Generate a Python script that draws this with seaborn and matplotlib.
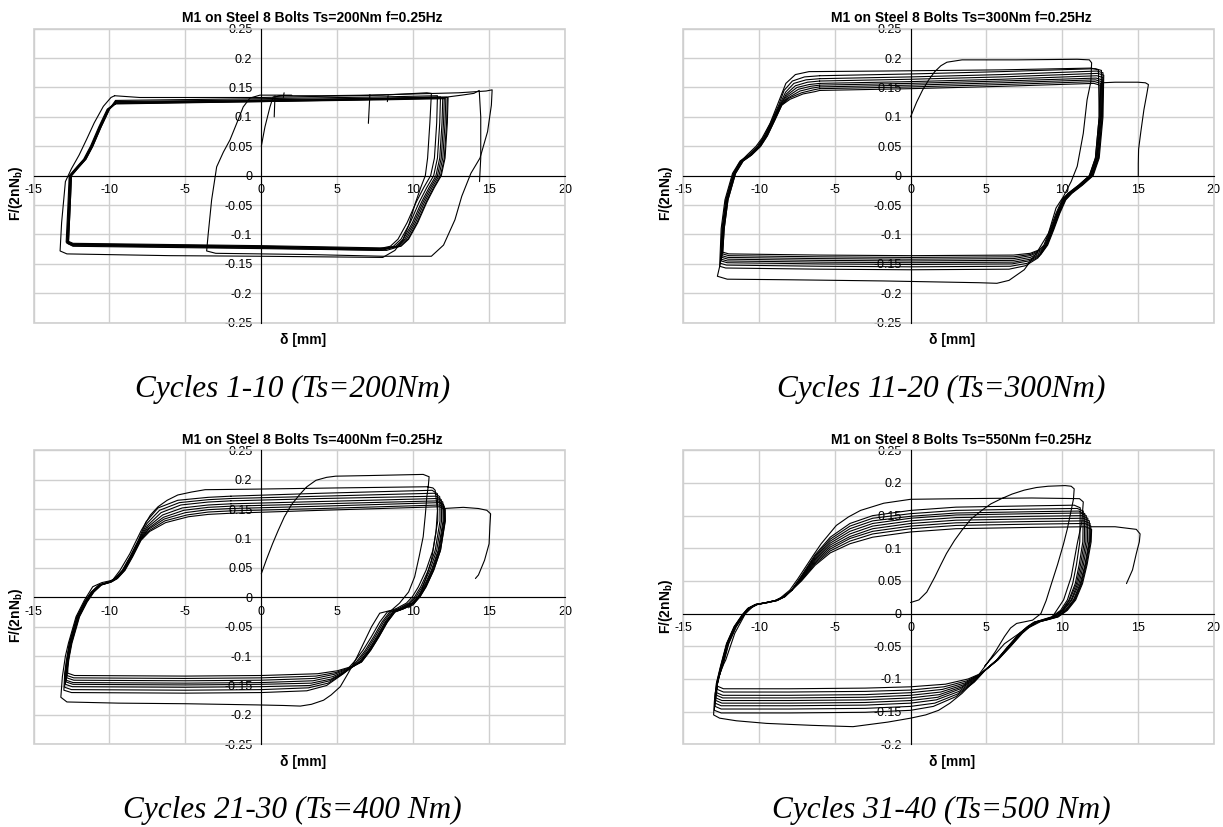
import matplotlib
matplotlib.use("Agg")
import matplotlib.pyplot as plt
from matplotlib.patches import Rectangle
import pandas as pd
import seaborn as sns

# ---------------- text ----------------
titles = ["M1 on Steel 8 Bolts Ts=200Nm f=0.25Hz", "M1 on Steel 8 Bolts Ts=300Nm f=0.25Hz",
          "M1 on Steel 8 Bolts Ts=400Nm f=0.25Hz", "M1 on Steel 8 Bolts Ts=550Nm f=0.25Hz"]
captions = ["Cycles 1-10 (Ts=200Nm)", "Cycles 11-20 (Ts=300Nm)",
            "Cycles 21-30 (Ts=400 Nm)", "Cycles 31-40 (Ts=500 Nm)"]
x_label = "δ [mm]"
y_label = r"F/(2nN$_\mathbf{b}$)"

x_ticks = [-15, -10, -5, 0, 5, 10, 15, 20]
x_tick_labels = ["-15", "-10", "-5", "0", "5", "10", "15", "20"]
y_ticks = [-0.25, -0.2, -0.15, -0.1, -0.05, 0, 0.05, 0.1, 0.15, 0.2, 0.25]
y_tick_labels = ["-0.25", "-0.2", "-0.15", "-0.1", "-0.05", "0", "0.05", "0.1", "0.15", "0.2", "0.25"]
y_ticks_last = [-0.2, -0.15, -0.1, -0.05, 0, 0.05, 0.1, 0.15, 0.2, 0.25]
y_tick_labels_last = ["-0.2", "-0.15", "-0.1", "-0.05", "0", "0.05", "0.1", "0.15", "0.2", "0.25"]

# ---------------- panel 1 : Ts=200Nm (delta [mm], F/(2nNb)) ----------------
p1_first = [(0, .05), (0.24, .083), (0.57, .117), (0.78, .134), (1.5, .136), (4, .136), (7, .137), (10, .139),
            (13, .141), (14.8, .144), (15.2, .146), (15.15, .12), (14.9, .075), (14.4, .03), (13.8, .004),
            (13.2, -.035), (12.75, -.075), (12.0, -.118), (11.2, -.137), (8, -.137), (3, -.134), (-3.0, -.132),
            (-3.6, -.128), (-3.5, -.1), (-3.27, -.041), (-2.94, .015), (-2.5, .04), (-2.06, .061), (-1.62, .089),
            (-1.19, .117), (-0.75, .132), (-0.09, .137), (2, .137)]
p1_final = [(12.3, .134), (13.2, .137), (14.0, .14), (14.35, .145), (14.45, .1), (14.45, .03), (14.37, -.01)]
p1_spikes = [[(0.85, .10), (0.9, .136)], [(1.45, .133), (1.5, .141)],
             [(7.05, .089), (7.15, .138)], [(8.3, .126), (8.35, .136)]]
p1_cycles = [
    [(-9.66, .136), (-8.0, .133), (0, .133), (8, .137), (10.9, .141), (11.2, .14), (11.1, .09), (10.95, .03),
     (10.8, 0), (10.5, -.02), (10.1, -.05), (9.7, -.085), (9.3, -.11), (8.8, -.127), (8.0, -.139), (0, -.137),
     (-6, -.136), (-12.8, -.133), (-13.25, -.128), (-13.15, -.08), (-12.9, -.01), (-12.5, .012), (-12.0, .035),
     (-11.5, .062), (-11.0, .09), (-10.4, .118), (-9.9, .133), (-9.66, .136)],
    [(-9.6, .128), (0, .131), (8, .134), (11.6, .136), (11.55, .09), (11.4, .03), (11.15, 0), (10.7, -.02),
     (10.2, -.045), (9.6, -.08), (9.0, -.108), (8.5, -.12), (7.6, -.125), (0, -.121), (-12.4, -.117),
     (-12.7, -.113), (-12.6, -.06), (-12.5, 0), (-12.0, .015), (-11.55, .028), (-11.1, .05), (-10.55, .083),
     (-10.0, .113), (-9.6, .128)],
    [(-9.6, .126), (0, .129), (8, .132), (11.8, .134), (11.75, .09), (11.6, .03), (11.35, 0), (10.9, -.02),
     (10.4, -.045), (9.8, -.08), (9.2, -.108), (8.7, -.12), (7.8, -.126), (0, -.122), (-12.4, -.118),
     (-12.75, -.114), (-12.65, -.06), (-12.55, 0), (-12.05, .015), (-11.6, .028), (-11.15, .05), (-10.6, .083),
     (-10.05, .113), (-9.6, .126)],
    [(-9.6, .125), (0, .128), (8, .131), (11.95, .133), (11.9, .09), (11.75, .03), (11.5, 0), (11.05, -.02),
     (10.55, -.045), (9.95, -.08), (9.35, -.108), (8.85, -.12), (7.95, -.127), (0, -.123), (-12.4, -.119),
     (-12.8, -.115), (-12.7, -.06), (-12.6, 0), (-12.1, .015), (-11.65, .028), (-11.2, .05), (-10.65, .083),
     (-10.1, .113), (-9.6, .125)],
    [(-9.6, .124), (0, .127), (8, .13), (12.05, .132), (12.0, .09), (11.85, .03), (11.6, 0), (11.15, -.02),
     (10.65, -.045), (10.05, -.08), (9.45, -.108), (8.95, -.12), (8.05, -.124), (0, -.12), (-12.4, -.116),
     (-12.8, -.112), (-12.7, -.06), (-12.6, 0), (-12.1, .015), (-11.65, .028), (-11.2, .05), (-10.65, .083),
     (-10.1, .113), (-9.6, .124)],
    [(-9.6, .123), (0, .126), (8, .129), (12.15, .131), (12.1, .09), (11.95, .03), (11.7, 0), (11.25, -.02),
     (10.75, -.045), (10.15, -.08), (9.55, -.108), (9.05, -.12), (8.15, -.125), (0, -.121), (-12.4, -.117),
     (-12.85, -.113), (-12.75, -.06), (-12.65, 0), (-12.15, .015), (-11.7, .028), (-11.25, .05), (-10.7, .083),
     (-10.15, .113), (-9.6, .123)],
    [(-9.6, .123), (0, .127), (8, .131), (12.25, .134), (12.2, .09), (12.05, .03), (11.8, 0), (11.35, -.02),
     (10.85, -.045), (10.25, -.08), (9.65, -.108), (9.15, -.12), (8.25, -.127), (0, -.124), (-12.4, -.12),
     (-12.7, -.116), (-12.6, -.06), (-12.5, 0), (-12.0, .015), (-11.55, .028), (-11.1, .05), (-10.55, .083),
     (-10.0, .113), (-9.6, .123)],
    [(-9.6, .122), (0, .126), (8, .13), (12.3, .133), (12.25, .09), (12.1, .03), (11.85, 0), (11.4, -.02),
     (10.9, -.045), (10.3, -.08), (9.7, -.108), (9.2, -.12), (8.3, -.123), (0, -.119), (-12.4, -.115),
     (-12.75, -.111), (-12.65, -.06), (-12.55, 0), (-12.05, .015), (-11.6, .028), (-11.15, .05), (-10.6, .083),
     (-10.05, .113), (-9.6, .122)],
]

# ---------------- panel 2 : Ts=300Nm ----------------
p2_first = [(0, .10), (0.4, .125), (0.8, .146), (1.2, .163), (1.6, .177), (2.0, .187), (2.4, .193), (3.4, .197),
            (7, .197), (11.0, .198), (11.8, .197), (11.95, .192), (11.9, .16), (11.65, .129), (11.4, .072),
            (11.0, .016), (10.6, -.01), (10.1, -.035), (9.6, -.055), (9.1, -.098), (8.3, -.132), (7.5, -.16),
            (6.5, -.178), (5.7, -.183), (4.5, -.182), (-1.8, -.179), (-8, -.177), (-12.1, -.176), (-12.75, -.171),
            (-12.55, -.149), (-12.37, -.098), (-12.1, -.041), (-11.72, -.001), (-11.33, .021), (-10.8, .035),
            (-10.2, .05), (-9.8, .064), (-9.27, .089), (-8.75, .123), (-8.23, .157), (-7.6, .172), (-6.7, .177),
            (-1.8, .178), (6, .180), (11.9, .183), (12.4, .180), (12.45, .10), (12.2, .03), (11.8, 0),
            (11.1, -.016), (10.4, -.03), (10.0, -.041)]
p2_final = [(12.6, .158), (13.5, .159), (15.0, .159), (15.5, .158), (15.7, .155), (15.6, .14), (15.4, .112),
            (15.2, .075), (15.05, .045), (15.03, .02), (15.03, 0)]
p2_cycles = [
    [(-6, .170), (0, .173), (6, .177), (12.2, .182), (12.6, .179), (12.55, .10), (12.3, .03), (11.9, 0),
     (11.2, -.016), (10.5, -.03), (10.1, -.041), (9.7, -.064), (9.3, -.092), (8.95, -.118), (8.4, -.14),
     (7.6, -.153), (6.5, -.159), (0, -.160), (-6, -.159), (-12.2, -.157), (-12.6, -.154), (-12.5, -.09),
     (-12.25, -.041), (-11.75, .004), (-11.25, .025), (-10.7, .035), (-10.1, .05), (-9.65, .068), (-9.15, .095),
     (-8.7, .12), (-8.35, .145), (-7.8, .161), (-7.0, .168), (-6, .170)],
    [(-6, .165), (0, .168), (6, .172), (12.3, .178), (12.7, .175), (12.65, .10), (12.4, .03), (12.0, 0),
     (11.3, -.016), (10.6, -.03), (10.2, -.041), (9.8, -.064), (9.4, -.092), (9.0, -.118), (8.5, -.137),
     (7.7, -.149), (6.6, -.154), (0, -.155), (-6, -.154), (-12.15, -.152), (-12.55, -.149), (-12.45, -.09),
     (-12.2, -.041), (-11.7, .004), (-11.2, .025), (-10.65, .035), (-10.05, .05), (-9.6, .068), (-9.1, .095),
     (-8.65, .12), (-8.25, .142), (-7.7, .157), (-6.9, .163), (-6, .165)],
    [(-6, .161), (0, .164), (6, .168), (12.35, .174), (12.75, .171), (12.7, .10), (12.45, .03), (12.05, 0),
     (11.35, -.016), (10.65, -.03), (10.25, -.041), (9.85, -.064), (9.45, -.092), (9.05, -.118), (8.6, -.134),
     (7.8, -.145), (6.7, -.15), (0, -.151), (-6, -.150), (-12.1, -.148), (-12.5, -.145), (-12.4, -.09),
     (-12.15, -.041), (-11.65, .004), (-11.15, .025), (-10.6, .035), (-10.0, .05), (-9.55, .068), (-9.05, .095),
     (-8.6, .12), (-8.2, .139), (-7.6, .153), (-6.8, .159), (-6, .161)],
    [(-6, .157), (0, .160), (6, .164), (12.3, .170), (12.7, .167), (12.65, .10), (12.4, .03), (12.0, 0),
     (11.3, -.016), (10.6, -.03), (10.2, -.041), (9.8, -.064), (9.4, -.092), (9.0, -.118), (8.6, -.132),
     (7.9, -.142), (6.8, -.147), (0, -.148), (-6, -.147), (-12.1, -.145), (-12.5, -.142), (-12.4, -.09),
     (-12.15, -.041), (-11.65, .004), (-11.15, .025), (-10.6, .035), (-10.0, .05), (-9.55, .068), (-9.05, .095),
     (-8.6, .12), (-8.15, .137), (-7.5, .15), (-6.7, .155), (-6, .157)],
    [(-6, .154), (0, .157), (6, .161), (12.25, .166), (12.65, .163), (12.6, .10), (12.35, .03), (11.95, 0),
     (11.25, -.016), (10.55, -.03), (10.15, -.041), (9.75, -.064), (9.35, -.092), (8.95, -.118), (8.6, -.13),
     (7.9, -.139), (6.8, -.144), (0, -.145), (-6, -.144), (-12.05, -.142), (-12.45, -.139), (-12.35, -.09),
     (-12.1, -.041), (-11.6, .004), (-11.1, .025), (-10.55, .035), (-9.95, .05), (-9.5, .068), (-9.0, .095),
     (-8.55, .12), (-8.1, .135), (-7.4, .147), (-6.6, .152), (-6, .154)],
    [(-6, .151), (0, .154), (6, .158), (12.2, .163), (12.6, .160), (12.55, .10), (12.3, .03), (11.9, 0),
     (11.2, -.016), (10.5, -.03), (10.1, -.041), (9.7, -.064), (9.3, -.092), (8.9, -.118), (8.6, -.128),
     (7.9, -.136), (6.8, -.141), (0, -.142), (-6, -.141), (-12.05, -.139), (-12.45, -.136), (-12.35, -.09),
     (-12.1, -.041), (-11.6, .004), (-11.1, .025), (-10.55, .035), (-9.95, .05), (-9.5, .068), (-9.0, .095),
     (-8.55, .12), (-8.05, .133), (-7.3, .144), (-6.5, .149), (-6, .151)],
    [(-6, .148), (0, .151), (6, .155), (12.15, .160), (12.55, .157), (12.5, .10), (12.25, .03), (11.85, 0),
     (11.15, -.016), (10.45, -.03), (10.05, -.041), (9.65, -.064), (9.25, -.092), (8.85, -.118), (8.6, -.126),
     (7.9, -.134), (6.8, -.138), (0, -.139), (-6, -.138), (-12.0, -.136), (-12.4, -.133), (-12.3, -.09),
     (-12.05, -.041), (-11.55, .004), (-11.05, .025), (-10.5, .035), (-9.9, .05), (-9.45, .068), (-8.95, .095),
     (-8.5, .12), (-8.0, .132), (-7.2, .141), (-6.4, .146), (-6, .148)],
    [(-6, .145), (0, .148), (6, .152), (12.1, .157), (12.5, .154), (12.45, .10), (12.2, .03), (11.8, 0),
     (11.1, -.016), (10.4, -.03), (10.0, -.041), (9.6, -.064), (9.2, -.092), (8.8, -.118), (8.5, -.126),
     (7.9, -.132), (6.8, -.135), (0, -.136), (-6, -.135), (-12.0, -.133), (-12.4, -.130), (-12.3, -.09),
     (-12.05, -.041), (-11.55, .004), (-11.05, .025), (-10.5, .035), (-9.9, .05), (-9.45, .068), (-8.95, .095),
     (-8.5, .12), (-7.95, .13), (-7.1, .139), (-6.3, .143), (-6, .145)],
]

# ---------------- panel 3 : Ts=400Nm ----------------
p3_first = [(0, .04), (0.35, .065), (0.74, .091), (1.1, .113), (1.52, .137), (2.0, .158), (2.57, .176), (3.0, .188),
            (3.6, .199), (4.3, .204), (4.9, .206), (7, .207), (10.66, .209), (11.05, .205), (11.0, .19),
            (10.9, .171), (10.8, .14), (10.66, .103), (10.4, .07), (10.1, .035), (9.7, .009), (9.1, -.01),
            (8.57, -.022), (7.8, -.027), (7.26, -.05), (6.7, -.08), (6.2, -.107), (5.7, -.13), (5.2, -.152),
            (4.6, -.166), (4.1, -.175), (3.3, -.182), (2.57, -.185), (1.5, -.184), (-0.3, -.183), (-5, -.181),
            (-9.4, -.18), (-12.8, -.178), (-13.2, -.17), (-13.1, -.135), (-12.9, -.1), (-12.7, -.078),
            (-12.2, -.033), (-11.65, -.005), (-11.1, .018), (-10.5, .025), (-9.8, .029), (-9.3, .046),
            (-8.66, .074), (-7.9, .114), (-7.3, .14), (-6.8, .154), (-6.2, .165), (-5.5, .174), (-4.6, .179),
            (-3.7, .183), (-0.3, .184), (5, .186), (10.9, .188), (11.3, .186), (11.45, .182), (11.6, .148),
            (11.5, .11), (11.2, .063), (10.8, .03), (10.4, 0), (10.0, -.013), (9.1, -.022)]
p3_final = [(12.0, .151), (13.3, .153), (14.3, .151), (14.85, .148), (15.1, .142), (15.05, .12), (15.0, .091),
            (14.7, .063), (14.3, .038), (14.1, .032)]
p3_cycles = [
    [(-2, .172), (4, .177), (11.25, .182), (11.6, .176), (11.62, .13), (11.3, .08), (10.85, .046), (10.35, .018),
     (9.95, .001), (9.55, -.01), (8.9, -.019), (8.3, -.025), (7.8, -.042), (7.25, -.067), (6.7, -.09),
     (6.1, -.11), (5.4, -.13), (4.3, -.15), (3.0, -.159), (0, -.162), (-5, -.163), (-12.5, -.162),
     (-13.0, -.158), (-12.95, -.13), (-12.85, -.11), (-12.65, -.078), (-12.15, -.033), (-11.65, -.008),
     (-11.2, .009), (-10.7, .021), (-10.05, .026), (-9.65, .032), (-9.15, .046), (-8.65, .069), (-8.1, .097),
     (-7.6, .128), (-6.8, .152), (-5.5, .165), (-3.5, .170), (-2, .172)],
    [(-2, .168), (4, .172), (11.4, .177), (11.75, .171), (11.77, .13), (11.45, .08), (11.0, .046), (10.5, .018),
     (10.1, .001), (9.7, -.01), (9.05, -.019), (8.45, -.025), (7.95, -.042), (7.4, -.067), (6.85, -.09),
     (6.25, -.11), (5.5, -.128), (4.4, -.146), (3.1, -.154), (0, -.157), (-5, -.158), (-12.5, -.157),
     (-12.95, -.153), (-12.92, -.13), (-12.82, -.11), (-12.62, -.078), (-12.12, -.033), (-11.62, -.008),
     (-11.17, .009), (-10.67, .021), (-10.02, .026), (-9.62, .032), (-9.12, .046), (-8.62, .069), (-8.07, .097),
     (-7.55, .125), (-6.7, .148), (-5.4, .161), (-3.5, .166), (-2, .168)],
    [(-2, .164), (4, .168), (11.5, .172), (11.85, .166), (11.87, .13), (11.55, .08), (11.1, .046), (10.6, .018),
     (10.2, .001), (9.8, -.01), (9.15, -.019), (8.55, -.025), (8.05, -.042), (7.5, -.067), (6.95, -.09),
     (6.35, -.11), (5.6, -.126), (4.5, -.142), (3.2, -.15), (0, -.152), (-5, -.153), (-12.45, -.152),
     (-12.9, -.148), (-12.88, -.13), (-12.8, -.11), (-12.6, -.078), (-12.1, -.033), (-11.6, -.008),
     (-11.15, .009), (-10.65, .021), (-10.0, .026), (-9.6, .032), (-9.1, .046), (-8.6, .069), (-8.05, .097),
     (-7.5, .122), (-6.6, .144), (-5.3, .157), (-3.5, .162), (-2, .164)],
    [(-2, .159), (4, .163), (11.6, .168), (11.95, .162), (11.97, .13), (11.65, .08), (11.2, .046), (10.7, .018),
     (10.3, .001), (9.9, -.01), (9.25, -.019), (8.65, -.025), (8.15, -.042), (7.6, -.067), (7.05, -.09),
     (6.45, -.11), (5.7, -.124), (4.6, -.139), (3.3, -.146), (0, -.148), (-5, -.149), (-12.4, -.148),
     (-12.85, -.144), (-12.84, -.13), (-12.77, -.11), (-12.57, -.078), (-12.07, -.033), (-11.57, -.008),
     (-11.12, .009), (-10.62, .021), (-9.97, .026), (-9.57, .032), (-9.07, .046), (-8.57, .069), (-8.02, .097),
     (-7.45, .12), (-6.5, .14), (-5.2, .152), (-3.5, .157), (-2, .159)],
    [(-2, .155), (4, .159), (11.65, .164), (12.0, .158), (12.02, .13), (11.7, .08), (11.25, .046), (10.75, .018),
     (10.35, .001), (9.95, -.01), (9.3, -.019), (8.7, -.025), (8.2, -.042), (7.65, -.067), (7.1, -.09),
     (6.5, -.11), (5.8, -.122), (4.7, -.135), (3.4, -.142), (0, -.145), (-5, -.146), (-12.4, -.145),
     (-12.85, -.141), (-12.82, -.125), (-12.75, -.11), (-12.55, -.078), (-12.05, -.033), (-11.55, -.008),
     (-11.1, .009), (-10.6, .021), (-9.95, .026), (-9.55, .032), (-9.05, .046), (-8.55, .069), (-8.0, .097),
     (-7.4, .118), (-6.45, .136), (-5.1, .148), (-3.5, .153), (-2, .155)],
    [(-2, .151), (4, .155), (11.7, .161), (12.05, .155), (12.07, .13), (11.75, .08), (11.3, .046), (10.8, .018),
     (10.4, .001), (10.0, -.01), (9.35, -.019), (8.75, -.025), (8.25, -.042), (7.7, -.067), (7.15, -.09),
     (6.55, -.11), (5.9, -.12), (4.8, -.131), (3.5, -.138), (0, -.141), (-5, -.142), (-12.35, -.141),
     (-12.8, -.137), (-12.78, -.125), (-12.72, -.11), (-12.52, -.078), (-12.02, -.033), (-11.52, -.008),
     (-11.07, .009), (-10.57, .021), (-9.92, .026), (-9.52, .032), (-9.02, .046), (-8.52, .069), (-7.97, .097),
     (-7.4, .116), (-6.4, .133), (-5.0, .144), (-3.5, .149), (-2, .151)],
    [(-2, .147), (4, .151), (11.75, .157), (12.1, .151), (12.12, .13), (11.8, .08), (11.35, .046), (10.85, .018),
     (10.45, .001), (10.05, -.01), (9.4, -.019), (8.8, -.025), (8.3, -.042), (7.75, -.067), (7.2, -.09),
     (6.6, -.11), (6.0, -.118), (4.9, -.128), (3.6, -.134), (0, -.137), (-5, -.138), (-12.35, -.137),
     (-12.8, -.133), (-12.77, -.12), (-12.7, -.105), (-12.5, -.078), (-12.0, -.033), (-11.5, -.008),
     (-11.05, .009), (-10.55, .021), (-9.9, .026), (-9.5, .032), (-9.0, .046), (-8.5, .069), (-7.95, .097),
     (-7.35, .114), (-6.35, .13), (-4.9, .14), (-3.5, .145), (-2, .147)],
    [(-2, .143), (4, .148), (11.75, .154), (12.1, .149), (12.1, .13), (11.8, .08), (11.35, .046), (10.85, .018),
     (10.45, .001), (10.05, -.01), (9.4, -.019), (8.8, -.025), (8.3, -.042), (7.75, -.067), (7.2, -.09),
     (6.6, -.11), (6.05, -.117), (5.0, -.125), (3.7, -.13), (0, -.133), (-5, -.134), (-12.3, -.133),
     (-12.75, -.129), (-12.73, -.118), (-12.67, -.105), (-12.47, -.078), (-11.97, -.033), (-11.47, -.008),
     (-11.02, .009), (-10.52, .021), (-9.87, .026), (-9.47, .032), (-8.97, .046), (-8.47, .069), (-7.92, .097),
     (-7.35, .112), (-6.3, .127), (-4.8, .137), (-3.5, .141), (-2, .143)],
]

# ---------------- panel 4 : Ts=550Nm ----------------
p4_first = [(0, .017), (0.55, .021), (1.07, .033), (1.6, .056), (2.0, .075), (2.37, .092), (2.9, .112), (3.4, .128),
            (4.0, .145), (4.7, .158), (5.3, .168), (6.0, .176), (6.7, .183), (7.5, .189), (8.3, .193), (9.08, .195),
            (10.2, .196), (10.6, .195), (10.8, .191), (10.75, .175), (10.6, .158), (10.35, .13), (10.1, .107),
            (9.7, .075), (9.3, .046), (8.95, .02), (8.6, 0), (8.05, -.01), (7.0, -.015), (6.6, -.022), (6.2, -.035),
            (5.6, -.058), (4.9, -.081), (4.2, -.103), (3.4, -.122), (2.6, -.137), (1.85, -.148), (1.0, -.155),
            (0, -.16), (-1.5, -.166), (-3.8, -.173), (-6.5, -.171), (-9.5, -.168), (-11.5, -.164), (-12.6, -.16),
            (-13.0, -.155), (-12.95, -.135), (-12.9, -.122), (-12.75, -.107), (-12.5, -.085), (-12.2, -.071),
            (-11.6, -.03), (-10.9, 0), (-10.3, .013), (-9.5, .017), (-8.75, .021), (-7.97, .036), (-7.45, .053),
            (-6.94, .071), (-6.4, .09), (-5.9, .107), (-4.9, .135), (-4.1, .148), (-3.3, .158), (-1.77, .169),
            (0, .175), (3.4, .176), (8, .177), (11.15, .176), (11.4, .171), (11.3, .14), (11.0, .107), (10.6, .056),
            (10.1, .021), (9.3, -.007), (8.6, -.012), (7.5, -.025), (6.2, -.046), (4.9, -.08)]
p4_final = [(11.9, .133), (13.5, .133), (14.9, .129), (15.15, .122), (15.1, .11), (14.9, .092), (14.65, .067),
            (14.25, .046)]
p4_cycles = [
    [(-7.84, .036), (-7.2, .058), (-6.3, .09), (-5.3, .117), (-4.0, .138), (-2.5, .15), (0, .158), (3, .163),
     (8, .165), (10.8, .166), (11.2, .162), (11.17, .11), (10.95, .075), (10.7, .046), (10.35, .021), (9.9, .005),
     (9.3, -.005), (8.6, -.01), (8.15, -.013), (7.7, -.02), (7.2, -.03), (6.4, -.051), (5.68, -.071),
     (4.95, -.086), (4.2, -.105), (3.0, -.127), (1.5, -.142), (0, -.148), (-3, -.151), (-8, -.152),
     (-12.5, -.152), (-12.95, -.148), (-12.9, -.125), (-12.82, -.107), (-12.55, -.081), (-12.15, -.046),
     (-11.65, -.02), (-11.12, -.002), (-10.75, .008), (-10.25, .014), (-9.55, .017), (-8.95, .02), (-8.4, .026),
     (-7.84, .036)],
    [(-7.84, .036), (-7.2, .057), (-6.3, .088), (-5.3, .114), (-4.0, .134), (-2.5, .146), (0, .153), (3, .158),
     (8, .16), (11.0, .161), (11.4, .157), (11.37, .11), (11.13, .075), (10.87, .046), (10.45, .021),
     (9.98, .005), (9.38, -.005), (8.66, -.01), (8.19, -.013), (7.73, -.02), (7.22, -.03), (6.42, -.051),
     (5.69, -.071), (4.95, -.086), (4.25, -.103), (3.1, -.123), (1.6, -.137), (0, -.142), (-3, -.145),
     (-8, -.146), (-12.5, -.146), (-12.9, -.142), (-12.87, -.125), (-12.8, -.107), (-12.53, -.081),
     (-12.13, -.046), (-11.63, -.02), (-11.1, -.002), (-10.73, .008), (-10.23, .014), (-9.53, .017),
     (-8.93, .02), (-8.38, .026), (-7.84, .036)],
    [(-7.84, .036), (-7.2, .056), (-6.3, .086), (-5.3, .111), (-4.0, .13), (-2.5, .142), (0, .149), (3, .154),
     (8, .156), (11.1, .157), (11.5, .153), (11.47, .11), (11.22, .075), (10.95, .046), (10.5, .021),
     (10.02, .005), (9.42, -.005), (8.7, -.01), (8.21, -.013), (7.75, -.02), (7.23, -.03), (6.43, -.051),
     (5.7, -.071), (4.95, -.086), (4.3, -.101), (3.2, -.119), (1.7, -.132), (0, -.137), (-3, -.14), (-8, -.141),
     (-12.5, -.141), (-12.9, -.137), (-12.86, -.122), (-12.79, -.107), (-12.52, -.081), (-12.12, -.046),
     (-11.62, -.02), (-11.09, -.002), (-10.72, .008), (-10.22, .014), (-9.52, .017), (-8.92, .02),
     (-8.37, .026), (-7.84, .036)],
    [(-7.84, .036), (-7.2, .055), (-6.3, .084), (-5.3, .108), (-4.0, .126), (-2.5, .138), (0, .146), (3, .151),
     (8, .153), (11.2, .154), (11.6, .15), (11.57, .11), (11.32, .075), (11.03, .046), (10.6, .021),
     (10.06, .005), (9.46, -.005), (8.73, -.01), (8.23, -.013), (7.76, -.02), (7.24, -.03), (6.44, -.051),
     (5.7, -.071), (4.95, -.086), (4.35, -.099), (3.3, -.115), (1.8, -.128), (0, -.133), (-3, -.136),
     (-8, -.137), (-12.45, -.137), (-12.85, -.133), (-12.83, -.12), (-12.77, -.107), (-12.5, -.081),
     (-12.1, -.046), (-11.6, -.02), (-11.07, -.002), (-10.7, .008), (-10.2, .014), (-9.5, .017), (-8.9, .02),
     (-8.36, .026), (-7.84, .036)],
    [(-7.84, .036), (-7.2, .054), (-6.3, .082), (-5.3, .105), (-4.0, .122), (-2.5, .134), (0, .142), (3, .147),
     (8, .149), (11.3, .15), (11.7, .146), (11.67, .11), (11.41, .075), (11.12, .046), (10.65, .021),
     (10.1, .005), (9.5, -.005), (8.76, -.01), (8.25, -.013), (7.78, -.02), (7.25, -.03), (6.45, -.051),
     (5.71, -.071), (4.95, -.086), (4.4, -.097), (3.4, -.112), (1.9, -.124), (0, -.129), (-3, -.132),
     (-8, -.133), (-12.45, -.133), (-12.85, -.129), (-12.82, -.118), (-12.75, -.107), (-12.48, -.081),
     (-12.08, -.046), (-11.58, -.02), (-11.05, -.002), (-10.68, .008), (-10.18, .014), (-9.48, .017),
     (-8.88, .02), (-8.34, .026), (-7.84, .036)],
    [(-7.84, .036), (-7.2, .053), (-6.3, .08), (-5.3, .102), (-4.0, .118), (-2.5, .13), (0, .138), (3, .143),
     (8, .145), (11.4, .146), (11.8, .142), (11.77, .11), (11.51, .075), (11.2, .046), (10.75, .021),
     (10.2, .005), (9.6, -.005), (8.8, -.01), (8.28, -.013), (7.8, -.02), (7.27, -.03), (6.47, -.051),
     (5.72, -.071), (4.95, -.086), (4.45, -.095), (3.5, -.109), (2.0, -.12), (0, -.125), (-3, -.128),
     (-8, -.129), (-12.4, -.129), (-12.8, -.125), (-12.8, -.115), (-12.73, -.105), (-12.46, -.081),
     (-12.06, -.046), (-11.56, -.02), (-11.03, -.002), (-10.66, .008), (-10.16, .014), (-9.46, .017),
     (-8.86, .02), (-8.32, .026), (-7.84, .036)],
    [(-7.84, .036), (-7.2, .052), (-6.3, .078), (-5.3, .099), (-4.0, .115), (-2.5, .126), (0, .134), (3, .139),
     (8, .141), (11.45, .142), (11.85, .138), (11.82, .11), (11.55, .075), (11.25, .046), (10.8, .021),
     (10.25, .005), (9.65, -.005), (8.85, -.01), (8.32, -.013), (7.83, -.02), (7.3, -.03), (6.5, -.051),
     (5.73, -.071), (4.95, -.086), (4.5, -.094), (3.6, -.106), (2.1, -.116), (0, -.121), (-3, -.124),
     (-8, -.125), (-12.4, -.125), (-12.8, -.121), (-12.78, -.113), (-12.72, -.103), (-12.45, -.081),
     (-12.05, -.046), (-11.55, -.02), (-11.02, -.002), (-10.65, .008), (-10.15, .014), (-9.45, .017),
     (-8.85, .02), (-8.31, .026), (-7.84, .036)],
    [(-7.84, .036), (-7.2, .051), (-6.3, .076), (-5.3, .096), (-4.0, .111), (-2.5, .122), (0, .13), (3, .135),
     (8, .137), (11.5, .138), (11.9, .134), (11.87, .11), (11.6, .075), (11.3, .046), (10.85, .021),
     (10.3, .005), (9.7, -.005), (8.9, -.01), (8.35, -.013), (7.85, -.02), (7.35, -.03), (6.55, -.051),
     (5.75, -.071), (4.95, -.086), (4.55, -.093), (3.7, -.103), (2.2, -.112), (0, -.117), (-3, -.119),
     (-8, -.12), (-12.35, -.12), (-12.75, -.116), (-12.76, -.11), (-12.7, -.1), (-12.43, -.081),
     (-12.03, -.046), (-11.53, -.02), (-11.0, -.002), (-10.63, .008), (-10.13, .014), (-9.43, .017),
     (-8.83, .02), (-8.3, .026), (-7.84, .036)],
    [(-7.84, .036), (-7.2, .05), (-6.3, .074), (-5.3, .093), (-4.0, .107), (-2.5, .117), (0, .125), (3, .13),
     (8, .132), (11.55, .133), (11.95, .129), (11.92, .11), (11.65, .075), (11.35, .046), (10.9, .021),
     (10.35, .005), (9.75, -.005), (8.95, -.01), (8.38, -.013), (7.88, -.02), (7.38, -.03), (6.57, -.051),
     (5.76, -.071), (4.95, -.086), (4.6, -.092), (3.8, -.1), (2.3, -.108), (0, -.112), (-3, -.114),
     (-8, -.115), (-12.35, -.115), (-12.75, -.111), (-12.75, -.107), (-12.68, -.098), (-12.4, -.081),
     (-12.0, -.046), (-11.5, -.02), (-10.98, -.002), (-10.6, .008), (-10.1, .014), (-9.4, .017), (-8.8, .02),
     (-8.28, .026), (-7.84, .036)],
]

# ---------------- style ----------------
sns.set_style("white")
plt.rcParams["font.family"] = ["Liberation Sans", "DejaVu Sans"]
plt.rcParams["mathtext.fontset"] = "custom"
plt.rcParams["mathtext.rm"] = "Liberation Sans"
plt.rcParams["mathtext.bf"] = "Liberation Sans:bold"
plt.rcParams["axes.unicode_minus"] = False
for key in ["text.color", "axes.labelcolor", "xtick.color", "ytick.color"]:
    plt.rcParams[key] = "black"

GRID = "#cfcfcf"


def to_frame(paths):
    rows = []
    for k, path in enumerate(paths):
        for d, f in path:
            rows.append((k, d, f))
    return pd.DataFrame(rows, columns=["path", "d", "f"])


panels = [
    ([p1_first] + p1_cycles + [p1_final] + p1_spikes, y_ticks, y_tick_labels, 0.44),
    ([p2_first] + p2_cycles + [p2_final], y_ticks, y_tick_labels, 0.44),
    ([p3_first] + p3_cycles + [p3_final], y_ticks, y_tick_labels, 0.44),
    ([p4_first] + p4_cycles + [p4_final], y_ticks_last, y_tick_labels_last, 0.47),
]

# axes rectangles (figure fractions)
rects = [[0.0274, 0.6098, 0.4346, 0.3555], [0.5587, 0.6098, 0.4336, 0.3555],
         [0.0274, 0.1000, 0.4346, 0.3555], [0.5587, 0.1000, 0.4336, 0.3555]]

fig = plt.figure(figsize=(12.23, 8.27), dpi=100)

for i, (paths, yt, ytl, ylab_y) in enumerate(panels):
    ax = fig.add_axes(rects[i])
    df = to_frame(paths)
    sns.lineplot(data=df, x="d", y="f", units="path", estimator=None, sort=False,
                 color="black", linewidth=0.8, legend=False, ax=ax)

    ax.set_xlim(-15, 20)
    ax.set_ylim(yt[0], 0.25)
    ax.set_xticks(x_ticks)
    ax.set_xticklabels(x_tick_labels)
    ax.set_yticks(yt)
    ax.set_yticklabels(ytl)
    ax.set_xlabel("")
    ax.set_ylabel("")

    ax.grid(True, color=GRID, linewidth=1.0)
    ax.set_axisbelow(True)
    ax.add_patch(Rectangle((0, 0), 1, 1, transform=ax.transAxes, fill=False,
                           edgecolor=GRID, linewidth=1.2, clip_on=False, zorder=0.6))

    # axes cross at the origin, like the spreadsheet chart
    for side in ["top", "right"]:
        ax.spines[side].set_visible(False)
    ax.spines["left"].set_position(("data", 0))
    ax.spines["bottom"].set_position(("data", 0))
    for side in ["left", "bottom"]:
        ax.spines[side].set_color("black")
        ax.spines[side].set_linewidth(0.8)
    ax.tick_params(axis="y", direction="out", length=3, width=0.8, pad=3.5, labelsize=9)
    ax.tick_params(axis="x", direction="out", length=0, pad=6, labelsize=9)

    ax.text(0.525, 1.035, titles[i], transform=ax.transAxes, ha="center", va="center",
            fontsize=10, fontweight="bold")
    ax.text(0.507, -0.06, x_label, transform=ax.transAxes, ha="center", va="center",
            fontsize=10, fontweight="bold")
    ax.text(-0.033, ylab_y, y_label, transform=ax.transAxes, ha="center", va="center",
            rotation=90, fontsize=10, fontweight="bold")
    ax.text(0.487, -0.252, captions[i], transform=ax.transAxes, ha="center", va="baseline",
            fontsize=22.5, style="italic", family=["Liberation Serif", "DejaVu Serif"])

fig.savefig("out.png", dpi=100)
